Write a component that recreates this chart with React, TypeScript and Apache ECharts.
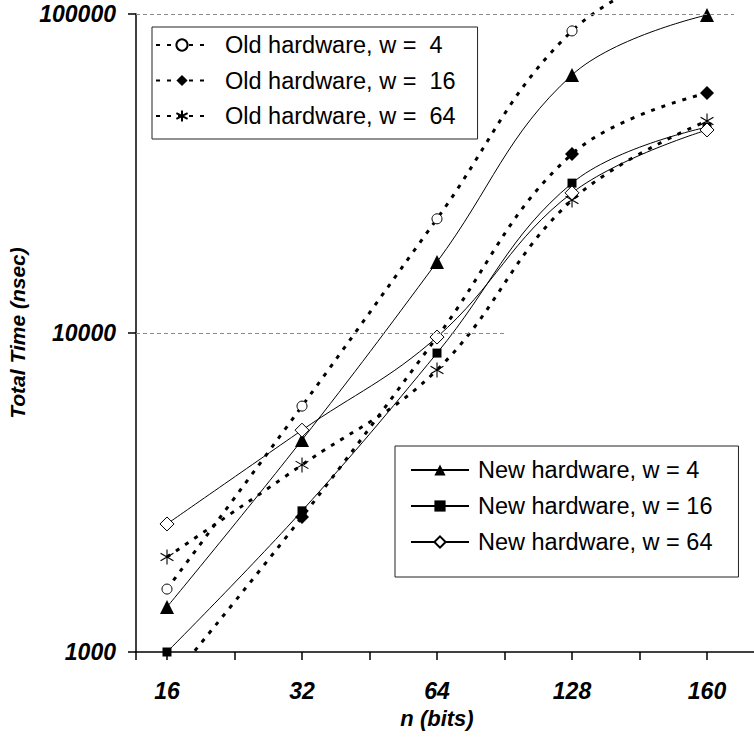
import React, { useEffect, useRef } from "react";
import * as echarts from "echarts";

// ---- data ----
const X_LABELS = ["16", "32", "64", "128", "160"];
const X_POS = [1, 2, 3, 4, 5];
const Y_TICK_VALUES = [1000, 10000, 100000];
const Y_TICK_LABELS = ["1000", "10000", "100000"];

const OLD_NAMES = ["Old hardware, w =  4", "Old hardware, w =  16", "Old hardware, w =  64"];
const NEW_NAMES = ["New hardware, w = 4", "New hardware, w = 16", "New hardware, w = 64"];

const OLD_W4 = [1575, 5900, 22800, 88500, 150000];
const OLD_W16 = [790, 2650, 9710, 36400, 56500];
const OLD_W64 = [1985, 3860, 7660, 26100, 46200];
const NEW_W4 = [1384, 4620, 16700, 64400, 99300];
const NEW_W16 = [1000, 2770, 8650, 29500, 44200];
const NEW_W64 = [2520, 4960, 9710, 27500, 43300];

// ---- layout constants ----
const X_MIN = 0.7704;
const X_MAX = 5.348;
const FONT = "'Liberation Sans', Arial, Helvetica, sans-serif";
const ASTERISK = "path://M7 0L7 14M1 3.5L13 10.5M1 10.5L13 3.5";

const pairs = (ys: number[]) => X_POS.map((x, i) => [x, ys[i]]);

const tickValues = (() => {
  const t: number[] = [X_MIN];
  X_POS.forEach((x, i) => {
    t.push(x);
    if (i < X_POS.length - 1) t.push((x + X_POS[i + 1]) / 2);
  });
  return t;
})();

const labelStyle = {
  fontFamily: FONT,
  fontSize: 23,
  fontWeight: "bold" as const,
  fontStyle: "italic" as const,
  color: "#000",
};

export default function App() {
  const ref = useRef<HTMLDivElement>(null);
  useEffect(() => {
    if (!ref.current) return;
    const chart = echarts.init(ref.current, undefined, { renderer: "svg" });
    const dotted = { color: "#000", width: 3, type: [4, 7] as number[], cap: "butt" as const };
    const solid = { color: "#000", width: 1, type: "solid" as const };
    const option: any = {
      animation: false,
      backgroundColor: "#fff",
      grid: {
        left: 136,
        right: 0,
        top: 14,
        bottom: 88,
        containLabel: false,
        outerBoundsMode: "none",
      },
      xAxis: {
        type: "value",
        min: X_MIN,
        max: X_MAX,
        axisLine: { show: true, onZero: false, lineStyle: { color: "#000", width: 1.5 } },
        axisTick: {
          show: true,
          length: 8,
          customValues: tickValues,
          lineStyle: { color: "#000", width: 1.5 },
        },
        axisLabel: {
          ...labelStyle,
          customValues: X_POS,
          margin: 27,
          formatter: (v: number) => {
            const i = X_POS.findIndex((p) => Math.abs(p - v) < 1e-6);
            return i >= 0 ? X_LABELS[i] : "";
          },
        },
        splitLine: { show: false },
        name: "n (bits)",
        nameLocation: "middle",
        nameGap: 55,
        nameTextStyle: { ...labelStyle, fontSize: 22, padding: [0, 16, 0, 0] },
      },
      yAxis: {
        type: "log",
        logBase: 10,
        min: 1000,
        max: 100000,
        axisLine: { show: true, onZero: false, lineStyle: { color: "#000", width: 1.5 } },
        axisTick: { show: true, length: 8, lineStyle: { color: "#000", width: 1.5 } },
        minorTick: { show: false },
        splitLine: { show: false },
        axisLabel: {
          ...labelStyle,
          margin: 20,
          formatter: (v: number) => {
            const i = Y_TICK_VALUES.findIndex((t) => Math.abs(t - v) / t < 1e-3);
            return i >= 0 ? Y_TICK_LABELS[i] : "";
          },
        },
        name: "Total Time (nsec)",
        nameLocation: "middle",
        nameGap: 103,
        nameTextStyle: { ...labelStyle, fontSize: 21 },
      },
      legend: [
        {
          data: OLD_NAMES,
          orient: "vertical",
          left: 152,
          top: 27,
          padding: [6, 22, 11, 3],
          itemWidth: 52,
          itemHeight: 14,
          itemGap: 11.5,
          borderColor: "#222",
          borderWidth: 1,
          backgroundColor: "#fff",
          selectedMode: false,
          textStyle: { fontFamily: FONT, fontSize: 23.5, color: "#000", padding: [0, 0, 0, 12] },
        },
        {
          data: NEW_NAMES,
          orient: "vertical",
          left: 395,
          top: 446,
          padding: [12, 26, 23, 15],
          itemWidth: 58,
          itemHeight: 14,
          itemGap: 12,
          borderColor: "#222",
          borderWidth: 1,
          backgroundColor: "#fff",
          selectedMode: false,
          textStyle: { fontFamily: FONT, fontSize: 23.5, color: "#000", padding: [0, 0, 0, 4] },
        },
      ],
      series: [
        {
          name: OLD_NAMES[0],
          type: "line",
          data: pairs(OLD_W4),
          smooth: 0.4,
          clip: false,
          symbol: "circle",
          symbolSize: 10,
          itemStyle: { color: "#fff", borderColor: "#000", borderWidth: 1 },
          lineStyle: dotted,
          z: 3,
          markLine: {
            silent: true,
            symbol: ["none", "none"],
            label: { show: false },
            lineStyle: { color: "#8a8a8a", type: [4, 3], width: 1 },
            data: [
              [{ coord: [X_MIN, 100000] }, { coord: [5.2, 100000] }],
              [{ coord: [X_MIN, 10000] }, { coord: [3.5, 10000] }],
            ],
          },
        },
        {
          name: OLD_NAMES[1],
          type: "line",
          data: pairs(OLD_W16),
          smooth: 0.4,
          symbol: "diamond",
          symbolSize: 14,
          itemStyle: { color: "#000" },
          lineStyle: dotted,
          z: 3,
        },
        {
          name: OLD_NAMES[2],
          type: "line",
          data: pairs(OLD_W64),
          smooth: 0.4,
          symbol: ASTERISK,
          symbolSize: 15,
          symbolKeepAspect: true,
          itemStyle: { color: "#000", borderColor: "#000", borderWidth: 1.1 },
          lineStyle: dotted,
          z: 3,
        },
        {
          name: NEW_NAMES[0],
          type: "line",
          data: pairs(NEW_W4),
          smooth: 0.4,
          symbol: "triangle",
          symbolSize: 14,
          itemStyle: { color: "#000" },
          lineStyle: solid,
          z: 4,
        },
        {
          name: NEW_NAMES[1],
          type: "line",
          data: pairs(NEW_W16),
          smooth: 0.4,
          symbol: "rect",
          symbolSize: 9,
          itemStyle: { color: "#000" },
          lineStyle: solid,
          z: 4,
        },
        {
          name: NEW_NAMES[2],
          type: "line",
          data: pairs(NEW_W64),
          smooth: 0.4,
          symbol: "diamond",
          symbolSize: 14,
          itemStyle: { color: "#fff", borderColor: "#000", borderWidth: 1 },
          lineStyle: solid,
          z: 4,
        },
      ],
    };
    chart.setOption(option);
    return () => chart.dispose();
  }, []);
  return (
    <div
      ref={ref}
      style={{ position: "fixed", left: 0, top: 0, width: 754, height: 740, background: "#fff" }}
    />
  );
}
